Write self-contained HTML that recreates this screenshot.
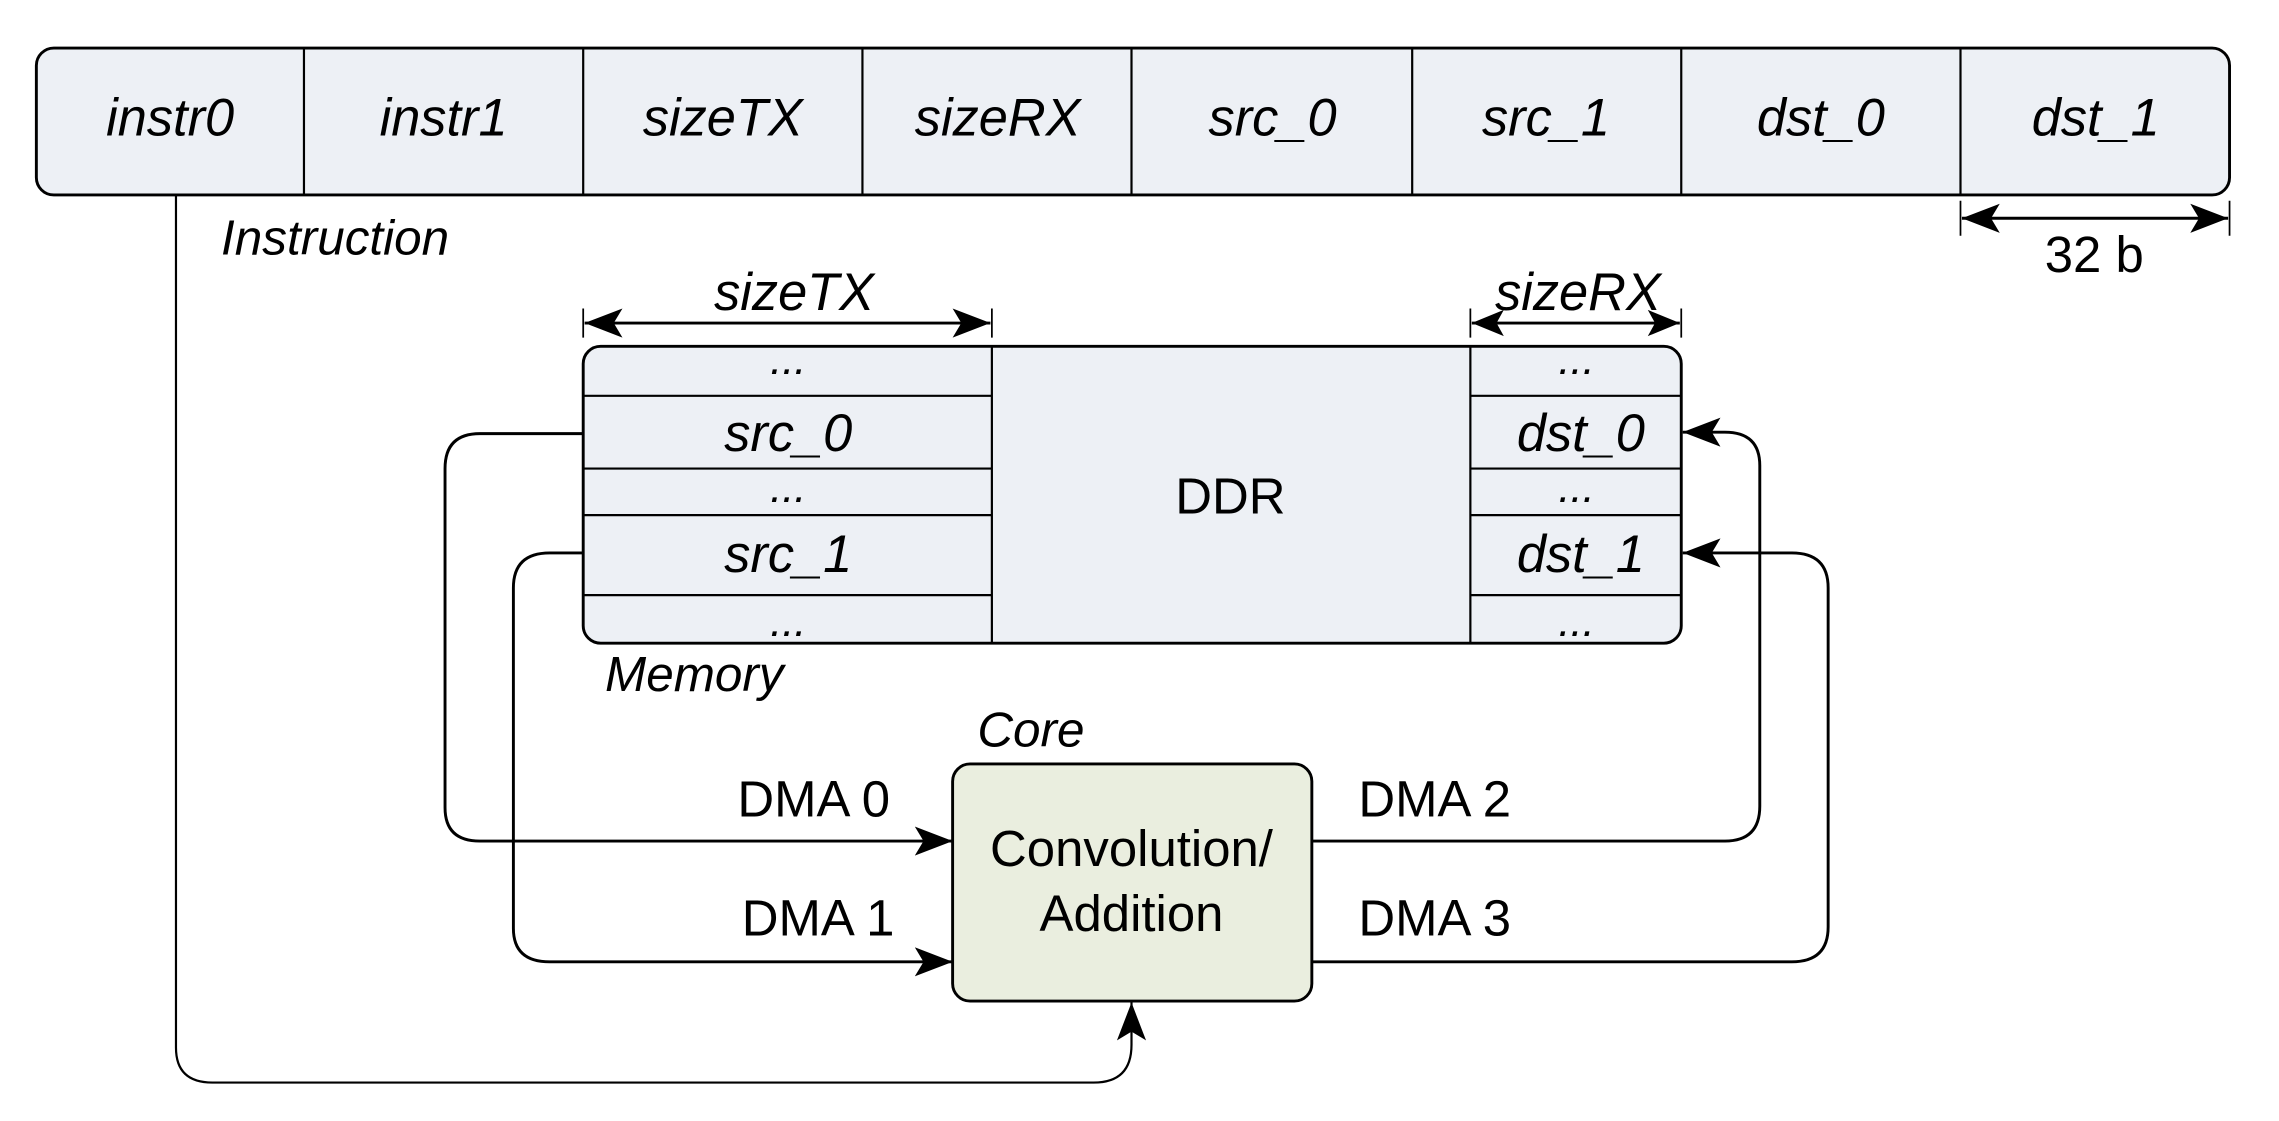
<!DOCTYPE html>
<html><head><meta charset="utf-8"><style>html,body{margin:0;padding:0;background:#fff}svg{display:block}</style></head><body>
<svg width="2279" height="1121" viewBox="0 0 1567 770.4" preserveAspectRatio="none" xmlns="http://www.w3.org/2000/svg" font-family="Liberation Sans, sans-serif">
<defs>
<marker id="ab" viewBox="0 0 26 20" refX="26" refY="10" markerWidth="26" markerHeight="20" orient="auto" markerUnits="userSpaceOnUse"><path d="M0,0 L26,10 L0,20 L6,10 z" fill="#000"/></marker></defs>
<g stroke="#000" stroke-width="2" fill="none">
<rect x="25" y="33" width="1508" height="101" rx="12" fill="#edf0f5"/>
<path d="M209 33V134M401 33V134M593 33V134M778 33V134M971 33V134M1156 33V134M1348 33V134" stroke-width="1.5"/>
<path d="M1348 138V162M1533 138V162M401 212V232M682 212V232M1011 212V232M1156 212V232" stroke-width="1.2"/>
<path d="M1349 150H1532M402 222H681M1012 222H1155"/>
<rect x="401" y="238" width="755" height="204" rx="12" fill="#edf0f5"/>
<path d="M682 238V442M1011 238V442M401 272H682M401 322H682M401 354H682M401 409H682M1011 272H1156M1011 322H1156M1011 354H1156M1011 409H1156" stroke-width="1.5"/>
<rect x="655" y="525" width="247" height="163" rx="12" fill="#eaeedf"/>
<path d="M401 298H330Q306 298 306 322V555Q306 578 330 578H655" marker-end="url(#ab)"/>
<path d="M401 380H378Q353 380 353 404V638Q353 661 378 661H655" marker-end="url(#ab)"/>
<path d="M902 578H1186Q1210 578 1210 554V320Q1210 297 1186 297H1157" marker-end="url(#ab)"/>
<path d="M902 661H1232Q1257 661 1257 637V404Q1257 380 1232 380H1157" marker-end="url(#ab)"/>
<path d="M121 134V720Q121 744 146 744H752Q778 744 778 718V689" stroke-width="1.5" marker-end="url(#ab)"/>
</g>
<g fill="#000">
<path d="M1349 150L1375 140L1369 150L1375 160zM1532 150L1506 140L1512 150L1506 160z"/>
<path d="M402 222L428 212L422 222L428 232zM681 222L655 212L661 222L655 232z"/>
<path d="M1012 222L1034 213L1029 222L1034 231zM1155 222L1133 213L1138 222L1133 231z"/>
</g>
<g font-size="36" font-style="italic" text-anchor="middle" fill="#000">
<text x="117" y="93">instr0</text><text x="305" y="93">instr1</text><text x="497" y="93">sizeTX</text><text x="686" y="93">sizeRX</text>
<text x="875" y="93">src_0</text><text x="1063" y="93">src_1</text><text x="1252" y="93">dst_0</text><text x="1441" y="93">dst_1</text>
<text x="546" y="213">sizeTX</text><text x="1085" y="213">sizeRX</text>
<text x="542" y="257" font-size="30">...</text><text x="542" y="310">src_0</text><text x="542" y="345" font-size="30">...</text><text x="542" y="393">src_1</text><text x="542" y="437" font-size="30">...</text>
<text x="1084" y="257" font-size="30">...</text><text x="1087" y="310">dst_0</text><text x="1084" y="345" font-size="30">...</text><text x="1087" y="393">dst_1</text><text x="1084" y="437" font-size="30">...</text>
</g>
<g font-size="34" font-style="italic" fill="#000">
<text x="152" y="175">Instruction</text><text x="416" y="475">Memory</text><text x="672" y="513">Core</text>
</g>
<g font-size="35" fill="#000">
<text x="1440" y="187" text-anchor="middle">32 b</text>
<text x="846" y="353" text-anchor="middle">DDR</text>
<text x="778" y="595" text-anchor="middle">Convolution/</text>
<text x="778" y="640" text-anchor="middle">Addition</text>
<text x="507" y="561">DMA 0</text><text x="510" y="643">DMA 1</text><text x="934" y="561">DMA 2</text><text x="934" y="643">DMA 3</text>
</g>
</svg>
</body></html>
